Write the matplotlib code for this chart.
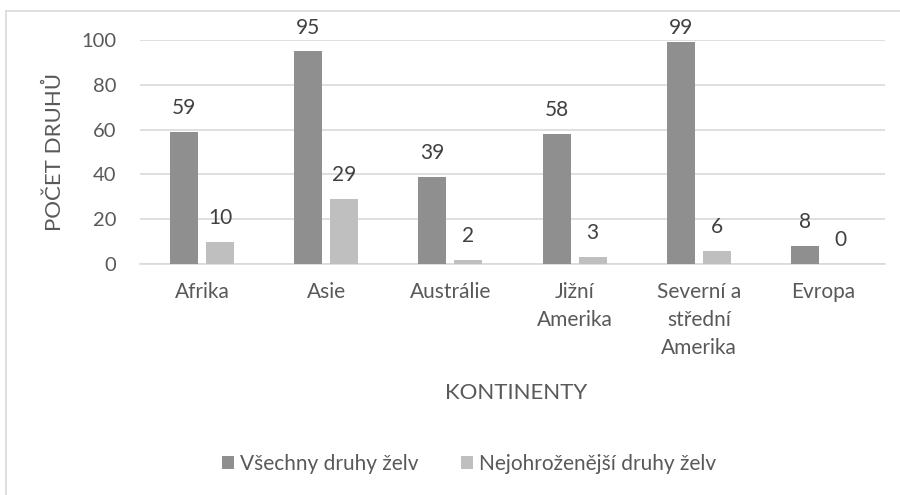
import numpy as np
import matplotlib.pyplot as plt
from matplotlib.lines import Line2D

plt.rcParams['font.family'] = ['Lato', 'DejaVu Sans']

# data
kontinenty = ["Afrika", "Asie", "Austrálie", "Jižní\nAmerika", "Severní a\nstřední\nAmerika", "Evropa"]
vsechny = [59, 95, 39, 58, 99, 8]
ohrozene = [10, 29, 2, 3, 6, 0]
serie_nazvy = ["Všechny druhy želv", "Nejohroženější druhy želv"]

W, H = 900, 495
fig = plt.figure(figsize=(W / 100, H / 100), dpi=100)
ax = fig.add_axes([140 / W, 1 - 264 / H, 745 / W, 224 / H])

txt = '#595959'
x = np.arange(len(kontinenty))
bw = 0.225
off = 0.145
b1 = ax.bar(x - off, vsechny, bw, color='#8f8f8f', label=serie_nazvy[0], zorder=3)
b2 = ax.bar(x + off, ohrozene, bw, color='#bfbfbf', label=serie_nazvy[1], zorder=3)

# popisky hodnot - u nejvyšších sloupců je Excel posune dolů, aby se vešly
px_na_jednotku = 224 / 100
for bars, vals in ((b1, vsechny), (b2, ohrozene)):
    anns = ax.bar_label(bars, padding=10, fontsize=15, color='#404040')
    for a, v in zip(anns, vals):
        pad_px = min(14, (100.9 - v) * px_na_jednotku)
        a.xyann = (0, pad_px * 0.72)

ax.set_xlim(-0.5, len(kontinenty) - 0.5)
ax.set_ylim(0, 100)
ax.set_yticks(range(0, 101, 20))
ax.set_xticks(x)
ax.set_xticklabels(kontinenty, fontsize=15, color=txt, linespacing=1.5, va='top')
ax.tick_params(axis='y', labelsize=14.5, labelcolor=txt, length=0, pad=17)
ax.tick_params(axis='x', length=0, pad=13)
ax.grid(axis='y', color='#d9d9d9', linewidth=1.2, zorder=0)
for s in ['top', 'right', 'left']:
    ax.spines[s].set_visible(False)
ax.spines['bottom'].set_color('#d9d9d9')
ax.spines['bottom'].set_linewidth(1.2)

ax.set_ylabel("POČET DRUHŮ", fontsize=16, color=txt, labelpad=12)
fig.text(516 / W, 1 - 393 / H, "KONTINENTY", fontsize=16, color=txt, ha='center', va='center')

fig.legend(loc='center', bbox_to_anchor=(469 / W, 1 - 464 / H), ncol=2, frameon=False,
           fontsize=15, labelcolor=txt, handlelength=0.6, handleheight=0.6,
           handletextpad=0.3, columnspacing=2.0)

# rámeček grafu
fig.add_artist(Line2D([6 / W, 6 / W], [0, 1 - 11 / H], color='#d9d9d9', lw=1.2))
fig.add_artist(Line2D([6 / W, 1], [1 - 11 / H, 1 - 11 / H], color='#d9d9d9', lw=1.2))

fig.savefig("out.png", dpi=100)
